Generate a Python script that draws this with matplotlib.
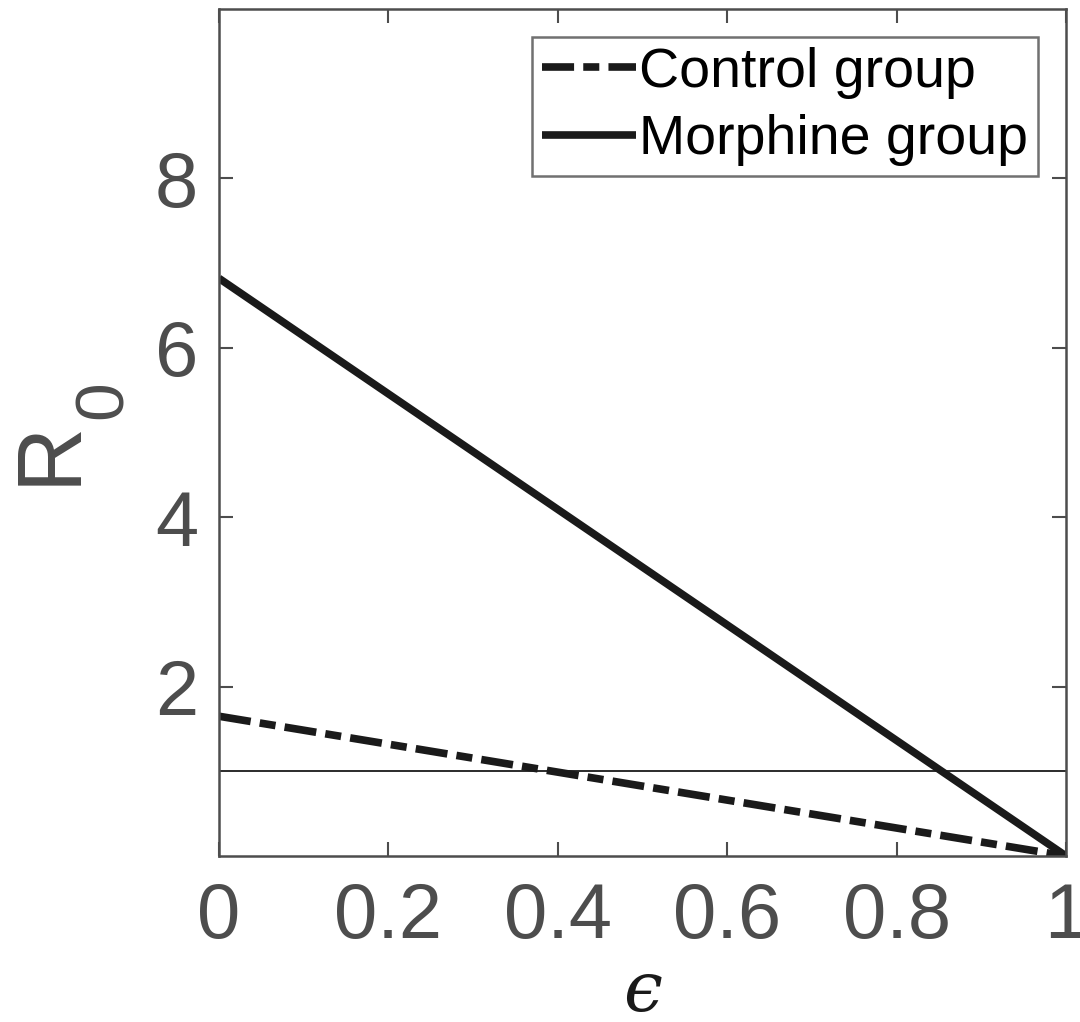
import numpy as np
import matplotlib.pyplot as plt

eps = [0.0, 1.0]
r0_control = [1.65, 0.0]
r0_morphine = [6.82, 0.0]
threshold = 1.0
y_ticks = [2, 4, 6, 8]
x_ticks = [0, 0.2, 0.4, 0.6, 0.8, 1]
x_ticklabels = ['0', '0.2', '0.4', '0.6', '0.8', '1']

plt.rcParams['font.family'] = ['Liberation Sans', 'DejaVu Sans']

gray = '#4d4d4d'
ink = '#1a1a1a'
W, H = 1080, 1022
fig = plt.figure(figsize=(W / 100, H / 100), dpi=100)
ax = fig.add_axes([219 / W, 1 - 856 / H, (1066 - 219) / W, (856 - 9) / H])

ax.axhline(threshold, color=ink, lw=1.3)
ax.plot(eps, r0_control, color=ink, lw=5.5, linestyle=(0, (4.2, 1.2, 2.1, 1.2)),
        label='Control group', dash_capstyle='butt')
ax.plot(eps, r0_morphine, color=ink, lw=5.5, label='Morphine group', solid_capstyle='butt')

ax.set_xlim(0, 1)
ax.set_ylim(0, 10)
ax.set_xticks(x_ticks)
ax.set_xticklabels(x_ticklabels)
ax.set_yticks(y_ticks)
ax.tick_params(direction='in', length=10, width=1.5, colors=gray, labelsize=56,
               top=True, right=True)
ax.tick_params(axis='y', pad=15)
ax.tick_params(axis='x', pad=18)
for s in ax.spines.values():
    s.set_color(gray)
    s.set_linewidth(1.8)

# epsilon label and R_0 label (MATLAB-like large subscript)
fig.text(642 / W, 1 - 992 / H, 'ϵ', fontsize=50, family='DejaVu Serif', style='italic',
         color=ink, ha='center', va='center')
fig.text(51 / W, 1 - 452 / H, 'R', fontsize=65, color=gray, rotation=90,
         ha='center', va='center')
fig.text(104 / W, 1 - 400 / H, '0', fontsize=50, color=gray, rotation=90,
         ha='center', va='center')

leg = ax.legend(loc='upper right', fontsize=40, frameon=True, fancybox=False,
                edgecolor=gray, handlelength=1.7, handletextpad=0.05,
                borderpad=0.18, labelspacing=0.28, borderaxespad=0.5)
leg.get_frame().set_linewidth(1.8)

fig.savefig('out.png', dpi=100)
